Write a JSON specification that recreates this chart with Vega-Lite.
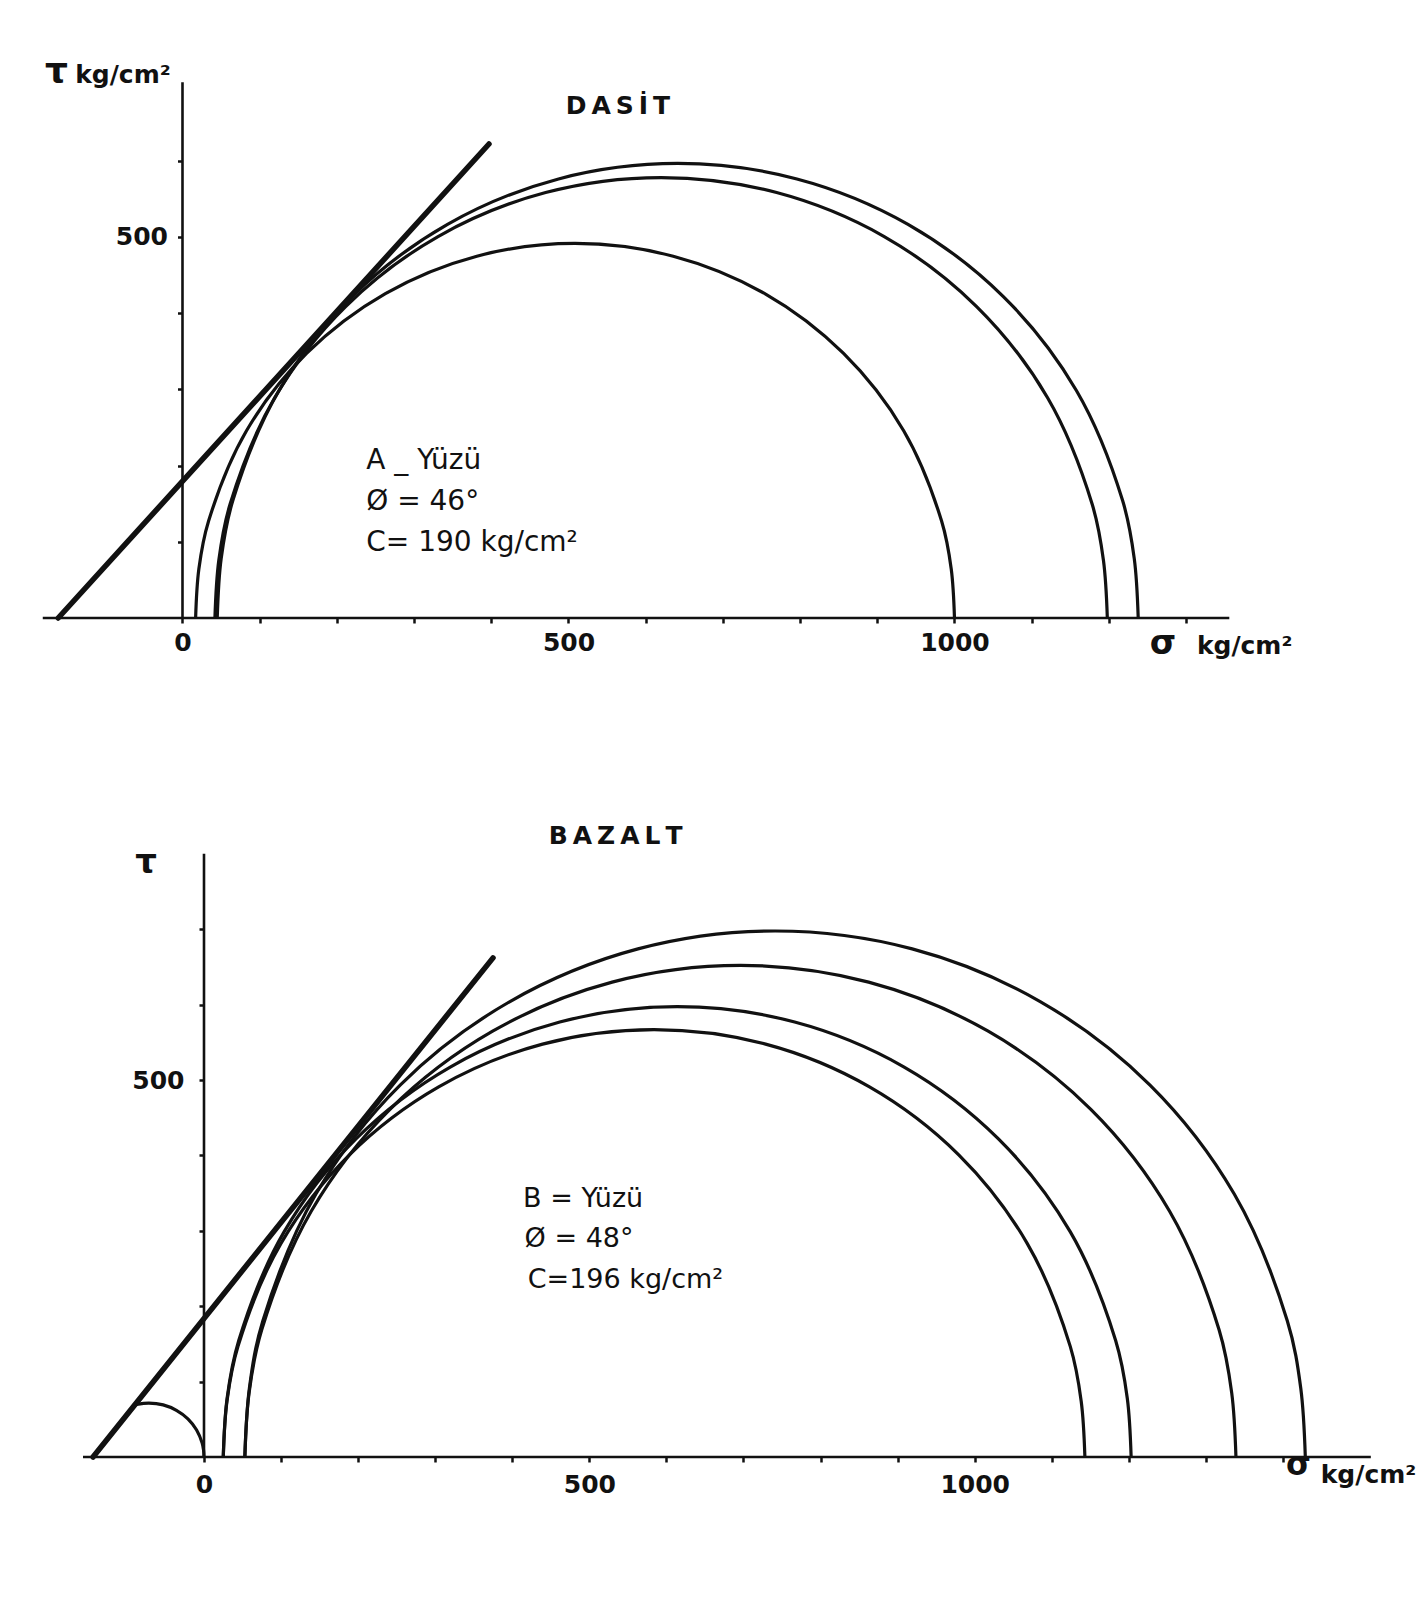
{
  "$schema": "https://vega.github.io/schema/vega-lite/v6.json",
  "background": "white",
  "padding": 0,
  "autosize": {"type": "pad"},
  "bounds": "flush",
  "spacing": 82,
  "config": {
    "view": {"stroke": null},
    "axis": {"grid": false, "domain": false, "tickColor": "#111", "tickWidth": 2.5, "tickSize": 5, "labelColor": "#111", "labelFont": "DejaVu Sans", "labelFontWeight": "bold", "labelFontSize": 25, "title": null, "format": "d"}
  },
  "datasets": {
    "topCurves": [
      {"c":"T1","k":"circle","i":0,"s":17,"t":0},{"c":"T1","k":"circle","i":1,"s":21.2,"t":64.2},{"c":"T1","k":"circle","i":2,"s":33.8,"t":127.2},{"c":"T1","k":"circle","i":3,"s":82.9,"t":245.8},{"c":"T1","k":"circle","i":4,"s":161.0,"t":347.5},{"c":"T1","k":"circle","i":5,"s":262.8,"t":425.7},{"c":"T1","k":"circle","i":6,"s":381.3,"t":474.8},{"c":"T1","k":"circle","i":7,"s":508.5,"t":491.5},{"c":"T1","k":"circle","i":8,"s":635.7,"t":474.8},{"c":"T1","k":"circle","i":9,"s":754.3,"t":425.7},{"c":"T1","k":"circle","i":10,"s":856.0,"t":347.5},{"c":"T1","k":"circle","i":11,"s":934.2,"t":245.8},{"c":"T1","k":"circle","i":12,"s":983.3,"t":127.2},{"c":"T1","k":"circle","i":13,"s":995.8,"t":64.2},{"c":"T1","k":"circle","i":14,"s":1000,"t":0},
      {"c":"T2","k":"circle","i":0,"s":42,"t":0},{"c":"T2","k":"circle","i":1,"s":47.0,"t":75.4},{"c":"T2","k":"circle","i":2,"s":61.7,"t":149.6},{"c":"T2","k":"circle","i":3,"s":119.4,"t":289},{"c":"T2","k":"circle","i":4,"s":211.3,"t":408.7},{"c":"T2","k":"circle","i":5,"s":331.0,"t":500.6},{"c":"T2","k":"circle","i":6,"s":470.4,"t":558.3},{"c":"T2","k":"circle","i":7,"s":620,"t":578},{"c":"T2","k":"circle","i":8,"s":769.6,"t":558.3},{"c":"T2","k":"circle","i":9,"s":909,"t":500.6},{"c":"T2","k":"circle","i":10,"s":1028.7,"t":408.7},{"c":"T2","k":"circle","i":11,"s":1120.6,"t":289},{"c":"T2","k":"circle","i":12,"s":1178.3,"t":149.6},{"c":"T2","k":"circle","i":13,"s":1193.0,"t":75.4},{"c":"T2","k":"circle","i":14,"s":1198,"t":0},
      {"c":"T3","k":"circle","i":0,"s":45,"t":0},{"c":"T3","k":"circle","i":1,"s":50.1,"t":77.9},{"c":"T3","k":"circle","i":2,"s":65.3,"t":154.4},{"c":"T3","k":"circle","i":3,"s":124.9,"t":298.3},{"c":"T3","k":"circle","i":4,"s":219.7,"t":421.8},{"c":"T3","k":"circle","i":5,"s":343.3,"t":516.6},{"c":"T3","k":"circle","i":6,"s":487.1,"t":576.2},{"c":"T3","k":"circle","i":7,"s":641.5,"t":596.5},{"c":"T3","k":"circle","i":8,"s":795.9,"t":576.2},{"c":"T3","k":"circle","i":9,"s":939.8,"t":516.6},{"c":"T3","k":"circle","i":10,"s":1063.3,"t":421.8},{"c":"T3","k":"circle","i":11,"s":1158.1,"t":298.3},{"c":"T3","k":"circle","i":12,"s":1217.7,"t":154.4},{"c":"T3","k":"circle","i":13,"s":1232.9,"t":77.9},{"c":"T3","k":"circle","i":14,"s":1238,"t":0},
      {"c":"E","k":"envelope","i":0,"s":-161,"t":0},{"c":"E","k":"envelope","i":1,"s":397,"t":622}
    ],
    "botCurves": [
      {"c":"B0","k":"circle","i":0,"s":-87.6,"t":69.7},{"c":"B0","k":"circle","i":1,"s":-71.5,"t":71.5},{"c":"B0","k":"circle","i":2,"s":-53.0,"t":69.1},{"c":"B0","k":"circle","i":3,"s":-35.8,"t":61.9},{"c":"B0","k":"circle","i":4,"s":-20.9,"t":50.6},{"c":"B0","k":"circle","i":5,"s":-9.6,"t":35.8},{"c":"B0","k":"circle","i":6,"s":-2.4,"t":18.5},{"c":"B0","k":"circle","i":7,"s":-0.6,"t":9.3},{"c":"B0","k":"circle","i":8,"s":0,"t":0},
      {"c":"B1","k":"circle","i":0,"s":25,"t":0},{"c":"B1","k":"circle","i":1,"s":29.8,"t":74.0},{"c":"B1","k":"circle","i":2,"s":44.1,"t":146.7},{"c":"B1","k":"circle","i":3,"s":99.9,"t":283.4},{"c":"B1","k":"circle","i":4,"s":188.7,"t":400.8},{"c":"B1","k":"circle","i":5,"s":304.5,"t":490.9},{"c":"B1","k":"circle","i":6,"s":439.3,"t":547.6},{"c":"B1","k":"circle","i":7,"s":584,"t":566.8},{"c":"B1","k":"circle","i":8,"s":728.7,"t":547.6},{"c":"B1","k":"circle","i":9,"s":863.5,"t":490.9},{"c":"B1","k":"circle","i":10,"s":979.3,"t":400.8},{"c":"B1","k":"circle","i":11,"s":1068.1,"t":283.4},{"c":"B1","k":"circle","i":12,"s":1124.0,"t":146.7},{"c":"B1","k":"circle","i":13,"s":1138.2,"t":74.0},{"c":"B1","k":"circle","i":14,"s":1143,"t":0},
      {"c":"B2","k":"circle","i":0,"s":25,"t":0},{"c":"B2","k":"circle","i":1,"s":30.0,"t":78.0},{"c":"B2","k":"circle","i":2,"s":45.1,"t":154.5},{"c":"B2","k":"circle","i":3,"s":103.9,"t":298.6},{"c":"B2","k":"circle","i":4,"s":197.5,"t":422.3},{"c":"B2","k":"circle","i":5,"s":319.5,"t":517.2},{"c":"B2","k":"circle","i":6,"s":461.6,"t":576.9},{"c":"B2","k":"circle","i":7,"s":614,"t":597.2},{"c":"B2","k":"circle","i":8,"s":766.4,"t":576.9},{"c":"B2","k":"circle","i":9,"s":908.5,"t":517.2},{"c":"B2","k":"circle","i":10,"s":1030.5,"t":422.3},{"c":"B2","k":"circle","i":11,"s":1124.1,"t":298.6},{"c":"B2","k":"circle","i":12,"s":1182.9,"t":154.5},{"c":"B2","k":"circle","i":13,"s":1198.0,"t":78.0},{"c":"B2","k":"circle","i":14,"s":1203,"t":0},
      {"c":"B3","k":"circle","i":0,"s":53,"t":0},{"c":"B3","k":"circle","i":1,"s":58.5,"t":85.1},{"c":"B3","k":"circle","i":2,"s":74.9,"t":168.7},{"c":"B3","k":"circle","i":3,"s":139.1,"t":326.0},{"c":"B3","k":"circle","i":4,"s":241.3,"t":461.1},{"c":"B3","k":"circle","i":5,"s":374.5,"t":564.7},{"c":"B3","k":"circle","i":6,"s":529.6,"t":629.8},{"c":"B3","k":"circle","i":7,"s":696,"t":652.0},{"c":"B3","k":"circle","i":8,"s":862.4,"t":629.8},{"c":"B3","k":"circle","i":9,"s":1017.5,"t":564.7},{"c":"B3","k":"circle","i":10,"s":1150.7,"t":461.1},{"c":"B3","k":"circle","i":11,"s":1252.9,"t":326.0},{"c":"B3","k":"circle","i":12,"s":1317.1,"t":168.7},{"c":"B3","k":"circle","i":13,"s":1333.5,"t":85.1},{"c":"B3","k":"circle","i":14,"s":1339,"t":0},
      {"c":"B4","k":"circle","i":0,"s":53,"t":0},{"c":"B4","k":"circle","i":1,"s":58.9,"t":91.1},{"c":"B4","k":"circle","i":2,"s":76.4,"t":180.6},{"c":"B4","k":"circle","i":3,"s":145.2,"t":348.8},{"c":"B4","k":"circle","i":4,"s":254.5,"t":493.3},{"c":"B4","k":"circle","i":5,"s":397,"t":604.1},{"c":"B4","k":"circle","i":6,"s":563.1,"t":673.9},{"c":"B4","k":"circle","i":7,"s":741,"t":697.6},{"c":"B4","k":"circle","i":8,"s":918.9,"t":673.9},{"c":"B4","k":"circle","i":9,"s":1085,"t":604.1},{"c":"B4","k":"circle","i":10,"s":1227.5,"t":493.3},{"c":"B4","k":"circle","i":11,"s":1336.8,"t":348.8},{"c":"B4","k":"circle","i":12,"s":1405.6,"t":180.6},{"c":"B4","k":"circle","i":13,"s":1423.1,"t":91.1},{"c":"B4","k":"circle","i":14,"s":1429,"t":0},
      {"c":"E","k":"envelope","i":0,"s":-144,"t":0},{"c":"E","k":"envelope","i":1,"s":375,"t":662}
    ],
    "topAxes": [
      {"s":-181,"s2":1356,"t":0,"t2":0},
      {"s":0,"s2":0,"t":0,"t2":703}
    ],
    "botAxes": [
      {"s":-157,"s2":1514,"t":0,"t2":0},
      {"s":0,"s2":0,"t":0,"t2":800}
    ],
    "topText": [
      {"role":"title","text":"D\u2009A\u2009S\u2009İ\u2009T","s":564,"t":672},
      {"role":"tau","text":"τ","s":-178,"t":702},
      {"role":"unit","text":"kg/cm²","s":-139,"t":702},
      {"role":"sigma","text":"σ","s":1253,"t":-47},
      {"role":"unit","text":"kg/cm²","s":1314,"t":-47},
      {"role":"note","text":"A _ Yüzü","s":238,"t":196},
      {"role":"note","text":"Ø = 46°","s":238,"t":142},
      {"role":"note","text":"C= 190 kg/cm²","s":238,"t":88}
    ],
    "botText": [
      {"role":"title","text":"B\u2009A\u2009Z\u2009A\u2009L\u2009T","s":534,"t":824},
      {"role":"tauc","text":"τ","s":-75,"t":774},
      {"role":"sigma","text":"σ","s":1404,"t":-24},
      {"role":"unit","text":"kg/cm²","s":1449,"t":-34},
      {"role":"note","text":"B = Yüzü","s":414,"t":332},
      {"role":"note","text":"Ø = 48°","s":416,"t":279},
      {"role":"note","text":"C=196 kg/cm²","s":420,"t":224}
    ]
  },
  "vconcat": [
    {
      "width": 1426,
      "height": 618,
      "encoding": {
        "x": {"field":"s","type":"quantitative","scale":{"domain":[-236.4,1610.8],"nice":false,"zero":false},
              "axis":{"values":[0,100,200,300,400,500,600,700,800,900,1000,1100,1200,1300],"labelExpr":"(datum.value==0||datum.value==500||datum.value==1000) ? datum.label : ''","labelPadding":7}},
        "y": {"field":"t","type":"quantitative","scale":{"domain":[0,811],"nice":false,"zero":false},
              "axis":{"values":[100,200,300,400,500,600],"labelExpr":"datum.value==500 ? datum.label : ''","offset":-182.5,"labelPadding":10}}
      },
      "layer": [
        {"data":{"name":"topAxes"},"mark":{"type":"rule","color":"#111","strokeWidth":2.6},
         "encoding":{"x2":{"field":"s2"},"y2":{"field":"t2"}}},
        {"data":{"name":"topCurves"},"transform":[{"filter":"datum.k=='circle'"}],
         "mark":{"type":"line","color":"#111","strokeWidth":3.2,"interpolate":"catmull-rom"},
         "encoding":{"detail":{"field":"c"},"order":{"field":"i"}}},
        {"data":{"name":"topCurves"},"transform":[{"filter":"datum.k=='envelope'"}],
         "mark":{"type":"line","color":"#111","strokeWidth":5.5,"strokeCap":"round"},
         "encoding":{"order":{"field":"i"}}},
        {"data":{"name":"topText"},"transform":[{"filter":"datum.role=='title'"}],
         "mark":{"type":"text","font":"DejaVu Sans","fontWeight":"bold","fontSize":25,"align":"center","baseline":"middle","color":"#111"},
         "encoding":{"text":{"field":"text"}}},
        {"data":{"name":"topText"},"transform":[{"filter":"datum.role=='tau'"}],
         "mark":{"type":"text","font":"DejaVu Sans","fontWeight":"bold","fontSize":36,"align":"left","baseline":"alphabetic","color":"#111"},
         "encoding":{"text":{"field":"text"}}},
        {"data":{"name":"topText"},"transform":[{"filter":"datum.role=='unit'"}],
         "mark":{"type":"text","font":"DejaVu Sans","fontWeight":"bold","fontSize":25,"align":"left","baseline":"alphabetic","color":"#111"},
         "encoding":{"text":{"field":"text"}}},
        {"data":{"name":"topText"},"transform":[{"filter":"datum.role=='sigma'"}],
         "mark":{"type":"text","font":"DejaVu Sans","fontWeight":"bold","fontSize":34,"align":"left","baseline":"alphabetic","color":"#111"},
         "encoding":{"text":{"field":"text"}}},
        {"data":{"name":"topText"},"transform":[{"filter":"datum.role=='note'"}],
         "mark":{"type":"text","font":"DejaVu Sans","fontSize":28,"align":"left","baseline":"alphabetic","color":"#111"},
         "encoding":{"text":{"field":"text"}}}
      ]
    },
    {
      "width": 1426,
      "height": 757,
      "encoding": {
        "x": {"field":"s","type":"quantitative","scale":{"domain":[-264.7,1585.6],"nice":false,"zero":false},
              "axis":{"values":[0,100,200,300,400,500,600,700,800,900,1000,1100,1200,1300,1400],"labelExpr":"(datum.value==0||datum.value==500||datum.value==1000) ? datum.label : ''","labelPadding":10}},
        "y": {"field":"t","type":"quantitative","scale":{"domain":[0,1004],"nice":false,"zero":false},
              "axis":{"values":[100,200,300,400,500,600,700],"labelExpr":"datum.value==500 ? datum.label : ''","offset":-204,"labelPadding":15}}
      },
      "layer": [
        {"data":{"name":"botAxes"},"mark":{"type":"rule","color":"#111","strokeWidth":2.6},
         "encoding":{"x2":{"field":"s2"},"y2":{"field":"t2"}}},
        {"data":{"name":"botCurves"},"transform":[{"filter":"datum.k=='circle'"}],
         "mark":{"type":"line","color":"#111","strokeWidth":3.2,"interpolate":"catmull-rom"},
         "encoding":{"detail":{"field":"c"},"order":{"field":"i"}}},
        {"data":{"name":"botCurves"},"transform":[{"filter":"datum.k=='envelope'"}],
         "mark":{"type":"line","color":"#111","strokeWidth":5.5,"strokeCap":"round"},
         "encoding":{"order":{"field":"i"}}},
        {"data":{"name":"botText"},"transform":[{"filter":"datum.role=='title'"}],
         "mark":{"type":"text","font":"DejaVu Sans","fontWeight":"bold","fontSize":25,"align":"center","baseline":"middle","color":"#111"},
         "encoding":{"text":{"field":"text"}}},
        {"data":{"name":"botText"},"transform":[{"filter":"datum.role=='tauc'"}],
         "mark":{"type":"text","font":"DejaVu Sans","fontWeight":"bold","fontSize":34,"align":"center","baseline":"alphabetic","color":"#111"},
         "encoding":{"text":{"field":"text"}}},
        {"data":{"name":"botText"},"transform":[{"filter":"datum.role=='unit'"}],
         "mark":{"type":"text","font":"DejaVu Sans","fontWeight":"bold","fontSize":25,"align":"left","baseline":"alphabetic","color":"#111"},
         "encoding":{"text":{"field":"text"}}},
        {"data":{"name":"botText"},"transform":[{"filter":"datum.role=='sigma'"}],
         "mark":{"type":"text","font":"DejaVu Sans","fontWeight":"bold","fontSize":32,"align":"left","baseline":"alphabetic","color":"#111"},
         "encoding":{"text":{"field":"text"}}},
        {"data":{"name":"botText"},"transform":[{"filter":"datum.role=='note'"}],
         "mark":{"type":"text","font":"DejaVu Sans","fontSize":27,"align":"left","baseline":"alphabetic","color":"#111"},
         "encoding":{"text":{"field":"text"}}}
      ]
    }
  ]
}
